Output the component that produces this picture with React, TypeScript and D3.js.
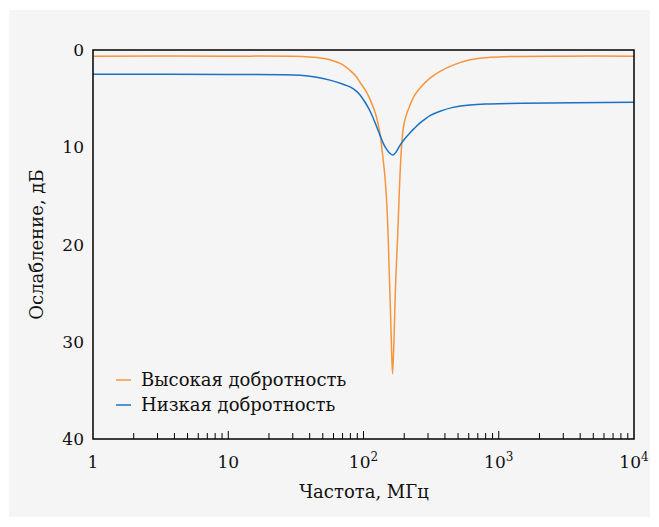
import React from "react";
import * as d3 from "d3";

// частота, МГц
const highQFreq = [1, 10, 30, 40, 50, 56.5, 70, 79.5, 88, 94, 104, 112, 123, 132, 139, 144, 148, 152, 155, 158, 160.5, 164, 168, 171, 174, 179, 183, 189, 193, 197, 206, 221, 240, 262, 310, 368, 459, 613, 862, 1200, 3000, 10000];
const highQLoss = [0.63, 0.63, 0.65, 0.72, 0.85, 1.0, 1.5, 2.1, 2.7, 3.3, 4.2, 5.1, 6.6, 8.5, 11, 13, 15.4, 19, 22.9, 26.5, 29.8, 33.3, 29.8, 26, 22.9, 19, 15.4, 11, 9.2, 8.0, 6.8, 5.65, 4.6, 3.9, 2.9, 2.2, 1.55, 1.0, 0.75, 0.66, 0.63, 0.63];

const lowQFreq = [1, 10, 34, 45, 56.5, 70, 79.5, 88, 94, 103, 112, 122, 132, 140, 148, 156, 165, 174, 186, 200, 221, 240, 262, 285, 310, 368, 459, 613, 862, 1500, 10000];
const lowQLoss = [2.5, 2.52, 2.6, 2.8, 3.1, 3.5, 3.8, 4.2, 4.6, 5.4, 6.3, 7.5, 8.7, 9.6, 10.2, 10.6, 10.8, 10.5, 9.8, 9.2, 8.5, 8.0, 7.5, 7.1, 6.75, 6.3, 5.9, 5.65, 5.55, 5.48, 5.38];

const seriesNames = ["Высокая добротность", "Низкая добротность"];
const seriesColors = ["#f7943c", "#1a72c2"];

const yTicks = [0, 10, 20, 30, 40];
const xMajor = [1, 10, 100, 1000, 10000];
const xLabels = [
  { base: "1", exp: "" },
  { base: "10", exp: "" },
  { base: "10", exp: "2" },
  { base: "10", exp: "3" },
  { base: "10", exp: "4" },
];

const W = 659;
const H = 527;
const m = { left: 93, top: 50, right: 634, bottom: 439 };
const font = "'DejaVu Serif', serif";

export default function App() {
  const x = d3.scaleLog().domain([1, 10000]).range([m.left, m.right]);
  const y = d3.scaleLinear().domain([0, 40]).range([m.top, m.bottom]);

  const line = d3
    .line<[number, number]>()
    .x((d) => x(d[0]))
    .y((d) => y(d[1]))
    .curve(d3.curveCatmullRom.alpha(0.5));

  const series = [
    highQFreq.map((f, i) => [f, highQLoss[i]] as [number, number]),
    lowQFreq.map((f, i) => [f, lowQLoss[i]] as [number, number]),
  ];

  // малые деления
  const minor: number[] = [];
  for (let dec = 1; dec < 10000; dec *= 10) {
    for (let k = 2; k <= 9; k++) minor.push(dec * k);
  }

  return (
    <svg width={W} height={H} style={{ position: "absolute", left: 0, top: 0 }}>
      <rect x={0} y={0} width={W} height={H} fill="#fff" />
      <rect x={9} y={10} width={641} height={507} fill="#f5f5f5" />

      <defs>
        <clipPath id="plot">
          <rect x={m.left} y={m.top} width={m.right - m.left} height={m.bottom - m.top} />
        </clipPath>
      </defs>

      <g clipPath="url(#plot)">
        {series.map((s, i) => (
          <path key={i} d={line(s) || ""} fill="none" stroke={seriesColors[i]} strokeWidth={1.5} />
        ))}
      </g>

      {minor.map((v) => (
        <line key={v} x1={x(v)} x2={x(v)} y1={m.bottom} y2={m.bottom - 6} stroke="#000" strokeWidth={1} />
      ))}
      {[10, 100, 1000].map((v) => (
        <line key={v} x1={x(v)} x2={x(v)} y1={m.bottom} y2={m.bottom - 8} stroke="#000" strokeWidth={1} />
      ))}

      <rect
        x={m.left}
        y={m.top}
        width={m.right - m.left}
        height={m.bottom - m.top}
        fill="none"
        stroke="#000"
        strokeWidth={1.5}
      />

      {yTicks.map((t) => (
        <text key={t} x={84} y={y(t) + 6} textAnchor="end" fontFamily={font} fontSize={17} fill="#111">
          {t}
        </text>
      ))}

      {xMajor.map((v, i) => (
        <text key={v} x={x(v)} y={468} textAnchor="middle" fontFamily={font} fontSize={17} fill="#111">
          {xLabels[i].base}
          {xLabels[i].exp && (
            <tspan dy={-7} fontSize={12}>
              {xLabels[i].exp}
            </tspan>
          )}
        </text>
      ))}

      <text x={364} y={498} textAnchor="middle" fontFamily={font} fontSize={18} fill="#111">
        Частота, МГц
      </text>
      <text
        transform={`translate(43,${(m.top + m.bottom) / 2}) rotate(-90)`}
        textAnchor="middle"
        fontFamily={font}
        fontSize={18}
        fill="#111"
      >
        Ослабление, дБ
      </text>

      {seriesNames.map((name, i) => (
        <g key={name} transform={`translate(116,${380 + i * 25})`}>
          <line x1={0} x2={15} y1={0} y2={0} stroke={seriesColors[i]} strokeWidth={1.5} />
          <text x={25} y={6} fontFamily={font} fontSize={18} fill="#111">
            {name}
          </text>
        </g>
      ))}
    </svg>
  );
}
